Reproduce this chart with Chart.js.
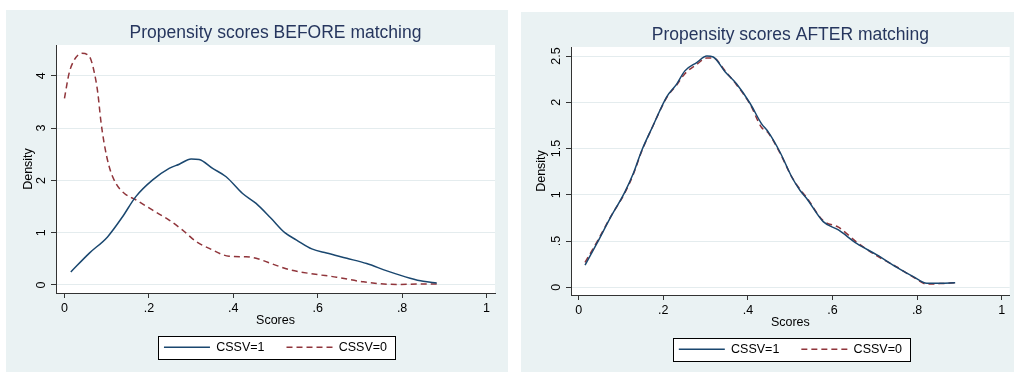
<!DOCTYPE html>
<html>
<head>
<meta charset="utf-8">
<script src="https://cdn.jsdelivr.net/npm/chart.js@4"></script>
<style>
  html, body { margin: 0; padding: 0; background: #fff; }
  body { width: 1014px; height: 372px; position: relative; overflow: hidden; }
  .panel { position: absolute; background: #eaf2f3; }
  #panel-before { left: 6px; top: 10px; width: 502px; height: 362px; }
  #panel-after { left: 521px; top: 12px; width: 493px; height: 360px; }
  canvas { display: block; }
</style>
</head>
<body>
<div class="panel" id="panel-before"><canvas id="chart-before" width="502" height="362"></canvas></div>
<div class="panel" id="panel-after"><canvas id="chart-after" width="493" height="360"></canvas></div>
<script>
// eje x comun
const xTicks = [0, 0.2, 0.4, 0.6, 0.8, 1];
const xTickLabels = ['0', '.2', '.4', '.6', '.8', '1'];

// BEFORE matching - CSSV=1
const before1X = [0.015, 0.059, 0.102, 0.138, 0.169, 0.209, 0.248, 0.272, 0.300, 0.319, 0.351, 0.383, 0.422, 0.454, 0.490, 0.522, 0.550, 0.586, 0.621, 0.669, 0.716, 0.764, 0.819, 0.850, 0.882];
const before1Y = [0.25, 0.61, 0.92, 1.31, 1.69, 2.01, 2.23, 2.31, 2.41, 2.40, 2.23, 2.07, 1.75, 1.56, 1.27, 1.00, 0.86, 0.69, 0.61, 0.51, 0.41, 0.27, 0.13, 0.07, 0.04];
// BEFORE matching - CSSV=0
const before0X = [0.000, 0.011, 0.023, 0.041, 0.059, 0.071, 0.079, 0.086, 0.094, 0.106, 0.122, 0.142, 0.169, 0.209, 0.248, 0.280, 0.312, 0.343, 0.390, 0.430, 0.454, 0.500, 0.534, 0.590, 0.645, 0.708, 0.787, 0.842, 0.882];
const before0Y = [3.57, 4.05, 4.30, 4.43, 4.37, 4.05, 3.67, 3.15, 2.71, 2.26, 1.94, 1.75, 1.63, 1.43, 1.24, 1.05, 0.83, 0.70, 0.55, 0.54, 0.51, 0.38, 0.29, 0.21, 0.15, 0.06, 0.01, 0.02, 0.02];
const beforeYTicks = [0, 1, 2, 3, 4];
const beforeYTickLabels = ['0', '1', '2', '3', '4'];

// AFTER matching (las dos curvas casi iguales)
const afterX = [0.015, 0.043, 0.074, 0.109, 0.129, 0.149, 0.176, 0.208, 0.232, 0.251, 0.279, 0.303, 0.318, 0.346, 0.373, 0.405, 0.432, 0.448, 0.476, 0.504, 0.523, 0.539, 0.578, 0.614, 0.657, 0.705, 0.752, 0.791, 0.823, 0.854, 0.890];
const after1Y = [0.24, 0.475, 0.745, 1.03, 1.23, 1.48, 1.75, 2.06, 2.20, 2.34, 2.43, 2.50, 2.49, 2.33, 2.20, 1.99, 1.77, 1.68, 1.46, 1.19, 1.05, 0.96, 0.71, 0.62, 0.475, 0.35, 0.216, 0.115, 0.043, 0.043, 0.05];
const after0Y = [0.27, 0.49, 0.75, 1.02, 1.22, 1.47, 1.75, 2.05, 2.19, 2.31, 2.41, 2.48, 2.48, 2.34, 2.19, 1.98, 1.73, 1.67, 1.45, 1.19, 1.06, 0.97, 0.72, 0.65, 0.49, 0.34, 0.22, 0.11, 0.035, 0.04, 0.05];
const afterYTicks = [0, 0.5, 1, 1.5, 2, 2.5];
const afterYTickLabels = ['0', '.5', '1', '1.5', '2', '2.5'];

const blue = '#1a476f';
const red = '#90353b';
const navy = '#26365e';

Chart.defaults.font.family = '"Liberation Sans", Arial, sans-serif';
Chart.defaults.color = '#000';

function toPoints(xs, ys) {
    return xs.map((x, i) => ({ x: x, y: ys[i] }));
}

// con usePointStyle la leyenda pierde el guion de la linea: se lo devolvemos
function legendLabels(chart) {
    const items = Chart.defaults.plugins.legend.labels.generateLabels(chart);
    items.forEach(item => {
        const ds = chart.data.datasets[item.datasetIndex];
        item.lineDash = ds.borderDash || [];
        item.lineWidth = ds.borderWidth;
        item.strokeStyle = ds.borderColor;
    });
    return items;
}

// fondo blanco del area del grafico y marco de la leyenda
const plotBackground = {
    id: 'plotBackground',
    beforeDraw(chart) {
        const { ctx, chartArea: a, legend } = chart;
        ctx.save();
        ctx.fillStyle = '#fff';
        ctx.fillRect(a.left, a.top, a.right - a.left, a.bottom - a.top);
        const hb = legend && legend.legendHitBoxes;
        if (hb && hb.length) {
            const first = hb[0];
            const last = hb[hb.length - 1];
            const cy = first.top + first.height / 2;
            const x0 = Math.round(first.left - 6) + 0.5;
            const x1 = Math.round(last.left + last.width + 8) + 0.5;
            const y0 = Math.round(cy - 11.5) + 0.5;
            const y1 = Math.round(cy + 11.5) + 0.5;
            ctx.fillRect(x0, y0, x1 - x0, y1 - y0);
            ctx.strokeStyle = '#000';
            ctx.lineWidth = 1;
            ctx.strokeRect(x0, y0, x1 - x0, y1 - y0);
        }
        ctx.restore();
    }
};

function makeChart(id, cfg) {
    const ctx = document.getElementById(id).getContext('2d');
    return new Chart(ctx, {
        type: 'line',
        data: {
            datasets: [
                {
                    label: 'CSSV=1',
                    data: toPoints(cfg.x1, cfg.y1),
                    borderColor: blue,
                    borderWidth: 1.5,
                    pointRadius: 0,
                    fill: false,
                    cubicInterpolationMode: 'monotone'
                },
                {
                    label: 'CSSV=0',
                    data: toPoints(cfg.x0, cfg.y0),
                    borderColor: red,
                    borderWidth: 1.5,
                    borderDash: [6, 4],
                    pointRadius: 0,
                    fill: false,
                    cubicInterpolationMode: 'monotone'
                }
            ]
        },
        options: {
            responsive: false,
            animation: false,
            devicePixelRatio: 1,
            layout: { padding: { left: 0, top: 0, right: cfg.padRight, bottom: cfg.padBottom } },
            plugins: {
                title: {
                    display: true,
                    text: cfg.title,
                    color: navy,
                    fullSize: false,
                    font: { size: 17.5, weight: 'normal' },
                    padding: { top: 13, bottom: 1 }
                },
                legend: {
                    position: 'bottom',
                    fullSize: false,
                    labels: {
                        usePointStyle: true,
                        pointStyle: 'line',
                        pointStyleWidth: 46,
                        padding: 22,
                        color: '#000',
                        font: { size: 12.5 },
                        generateLabels: legendLabels
                    }
                },
                tooltip: { enabled: false }
            },
            scales: {
                x: {
                    type: 'linear',
                    min: cfg.xMin,
                    max: cfg.xMax,
                    afterBuildTicks: s => { s.ticks = xTicks.map(v => ({ value: v })); },
                    afterFit: s => { s.height = 26; },
                    grid: { drawOnChartArea: false, tickLength: 5, tickColor: '#333' },
                    border: { color: '#333' },
                    ticks: {
                        padding: 3,
                        color: '#000',
                        font: { size: 12.5 },
                        maxRotation: 0,
                        autoSkip: false,
                        callback: (v, i) => xTickLabels[i]
                    },
                    title: {
                        display: true,
                        text: 'Scores',
                        color: '#000',
                        font: { size: 12.5 },
                        padding: { top: 0, bottom: -9.2 }
                    }
                },
                y: {
                    type: 'linear',
                    min: cfg.yMin,
                    max: cfg.yMax,
                    afterBuildTicks: s => { s.ticks = cfg.yTicks.map(v => ({ value: v })); },
                    afterFit: s => { s.width = 50; },
                    grid: { color: '#e4ecee', tickLength: 5, tickColor: '#333' },
                    border: { color: '#333' },
                    ticks: {
                        minRotation: 90,
                        maxRotation: 90,
                        crossAlign: 'center',
                        padding: cfg.yTickPad,
                        color: '#000',
                        font: { size: 12.5 },
                        autoSkip: false,
                        callback: (v, i) => cfg.yTickLabels[i]
                    },
                    title: {
                        display: true,
                        text: 'Density',
                        color: '#000',
                        font: { size: 12.5 },
                        padding: { top: cfg.yTitlePad, bottom: 0 }
                    }
                }
            }
        },
        plugins: [plotBackground]
    });
}

makeChart('chart-before', {
    title: 'Propensity scores BEFORE matching',
    x1: before1X, y1: before1Y,
    x0: before0X, y0: before0Y,
    xMin: -0.0201, xMax: 1.0201,
    yMin: -0.153, yMax: 4.589,
    yTicks: beforeYTicks, yTickLabels: beforeYTickLabels,
    yTickPad: 5.8, yTitlePad: 14.8,
    padRight: 13, padBottom: 8.5
});

makeChart('chart-after', {
    title: 'Propensity scores AFTER matching',
    x1: afterX, y1: after1Y,
    x0: afterX, y0: after0Y,
    xMin: -0.0182, xMax: 1.0189,
    yMin: -0.083, yMax: 2.598,
    yTicks: afterYTicks, yTickLabels: afterYTickLabels,
    yTickPad: 1, yTitlePad: 13.5,
    padRight: 4.3, padBottom: 6.5
});
</script>
</body>
</html>
